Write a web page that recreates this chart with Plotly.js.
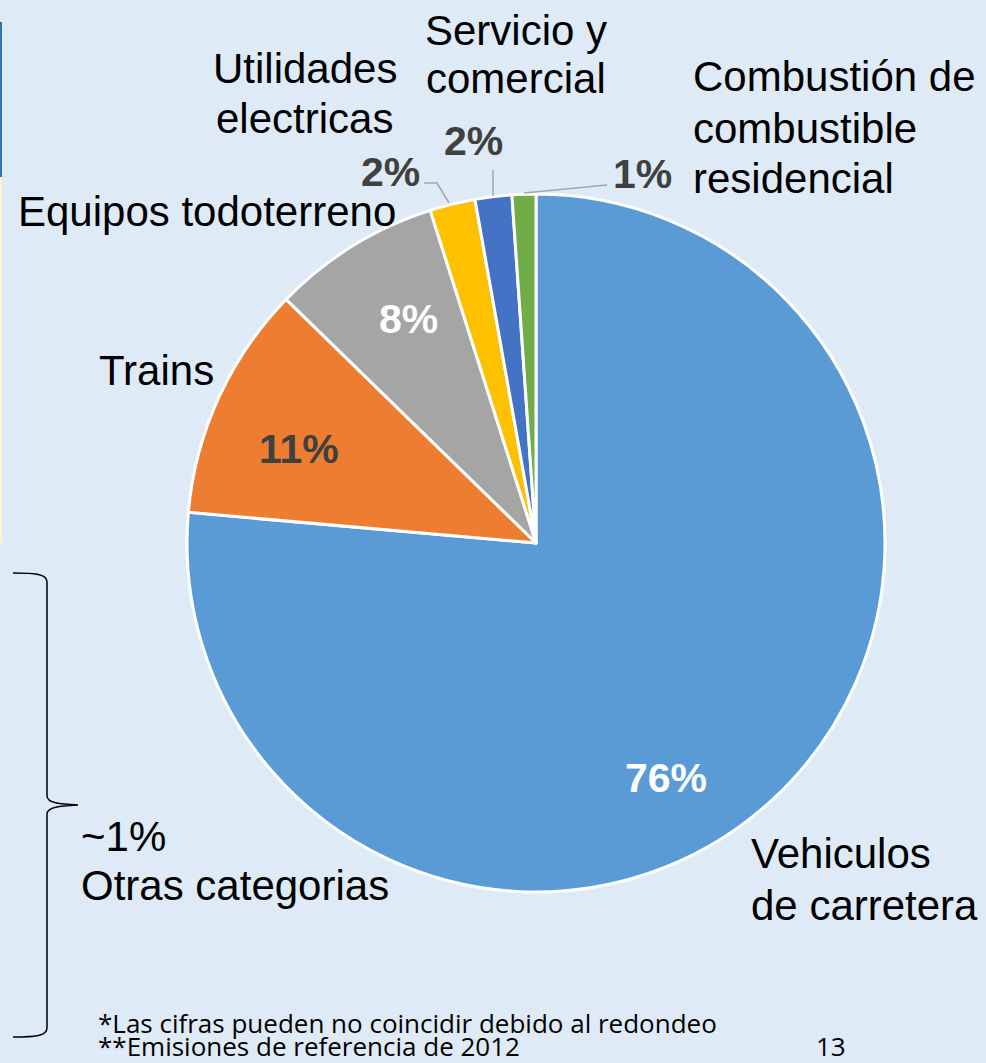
<!DOCTYPE html>
<html>
<head>
<meta charset="utf-8">
<script src="https://cdn.plot.ly/plotly-3.0.1.min.js"></script>
<style>
html,body{margin:0;padding:0;background:#DEEBF7;}
#chart{width:986px;height:1063px;}
</style>
</head>
<body>
<div id="chart"></div>
<script>
// ---- data ----
const categories = [
  "Vehiculos de carretera",
  "Trains",
  "Equipos todoterreno",
  "Utilidades electricas",
  "Servicio y comercial",
  "Combustión de combustible residencial"
];
const shares = [76.4, 10.9, 7.8, 2.1, 1.7, 1.1];
const colors = ["#5B9BD5", "#ED7D31", "#A5A5A5", "#FFC000", "#4472C4", "#70AD47"];
const otherLabel = ["~1%", "Otras categorias"];
const footnotes = ["*Las cifras pueden no coincidir debido al redondeo", "**Emisiones de referencia de 2012"];
const pageNumber = "13";

const W = 986, H = 1063;
const cx = 536, cy = 543, R = 349;

const pct = shares.map(v => Math.round(v) + "%");

const trace = {
  type: "pie",
  labels: categories,
  values: shares,
  sort: false,
  direction: "clockwise",
  rotation: 0,
  textinfo: "none",
  hoverinfo: "none",
  showlegend: false,
  marker: {colors: colors, line: {color: "#FFFFFF", width: 3}},
  domain: {
    x: [(cx - R) / W, (cx + R) / W],
    y: [(H - (cy + R)) / H, (H - (cy - R)) / H]
  }
};

const LF = "Liberation Sans, Arial, sans-serif";
const labelFont = {family: LF, size: 42, color: "#000000"};
const pctDark = {family: LF, size: 41, color: "#404040", weight: "bold"};
const pctWhite = {family: LF, size: 41, color: "#FFFFFF", weight: "bold"};
const footFont = {family: "Open Sans, sans-serif", size: 26, color: "#000000"};

function ann(text, x, y, font, xanchor) {
  return {text: text, x: x, y: y, xref: "x", yref: "y", showarrow: false,
          font: font, xanchor: xanchor || "center", yanchor: "middle"};
}

const annotations = [
  // category labels
  ann("Servicio y", 516, 30, labelFont),
  ann("comercial", 516, 78, labelFont),
  ann("Utilidades", 305, 68, labelFont),
  ann("electricas", 304, 118, labelFont),
  ann("Combustión de", 691, 76, labelFont, "left"),
  ann("combustible", 691, 128, labelFont, "left"),
  ann("residencial", 691, 178, labelFont, "left"),
  ann(categories[2], 207, 211, labelFont),
  ann(categories[1], 156, 370, labelFont),
  ann("Vehiculos", 749, 853, labelFont, "left"),
  ann("de carretera", 749, 905, labelFont, "left"),
  ann(otherLabel[0], 79, 836, labelFont, "left"),
  ann(otherLabel[1], 79, 885, labelFont, "left"),
  // percentages
  ann(pct[0], 666, 778, pctWhite),
  ann(pct[1], 299, 449, pctDark),
  ann(pct[2], 408, 319, pctWhite),
  ann(pct[3], 390, 172, pctDark),
  ann(pct[4], 473, 141, pctDark),
  ann(pct[5], 642, 174, pctDark),
  // footnotes
  ann(footnotes[0], 96, 1023, footFont, "left"),
  ann(footnotes[1], 96, 1046, footFont, "left"),
  ann(pageNumber, 831, 1046, footFont)
];

const leader = {color: "#A6A6A6", width: 1.5};
const shapes = [
  // left edge strips
  {type: "rect", xref: "x", yref: "y", x0: 0, x1: 2, y0: 22, y1: 177, fillcolor: "#2E75B6", line: {width: 0}},
  {type: "rect", xref: "x", yref: "y", x0: 0, x1: 2, y0: 177, y1: 543, fillcolor: "#FFF2CC", line: {width: 0}},
  // leader lines
  {type: "path", xref: "x", yref: "y", path: "M 424 183 L 437 183 L 449 203", line: leader},
  {type: "line", xref: "x", yref: "y", x0: 493, y0: 170, x1: 493, y1: 196, line: leader},
  {type: "line", xref: "x", yref: "y", x0: 607, y0: 185, x1: 524, y1: 193, line: leader},
  // curly brace
  {type: "path", xref: "x", yref: "y",
   path: "M 13 573 C 35 573 47 574 47 582 L 47 796 C 47 803 60 804 78 805 C 60 806 47 807 47 814 L 47 1028 C 47 1036 35 1037 13 1037",
   line: {color: "#000000", width: 1.5}}
];

const layout = {
  width: W, height: H,
  margin: {l: 0, r: 0, t: 0, b: 0, pad: 0},
  paper_bgcolor: "#DEEBF7",
  plot_bgcolor: "rgba(0,0,0,0)",
  xaxis: {range: [0, W], visible: false, fixedrange: true},
  yaxis: {range: [H, 0], visible: false, fixedrange: true},
  annotations: annotations,
  shapes: shapes,
  showlegend: false
};

Plotly.newPlot("chart", [trace], layout, {staticPlot: true, displayModeBar: false});
</script>
</body>
</html>
